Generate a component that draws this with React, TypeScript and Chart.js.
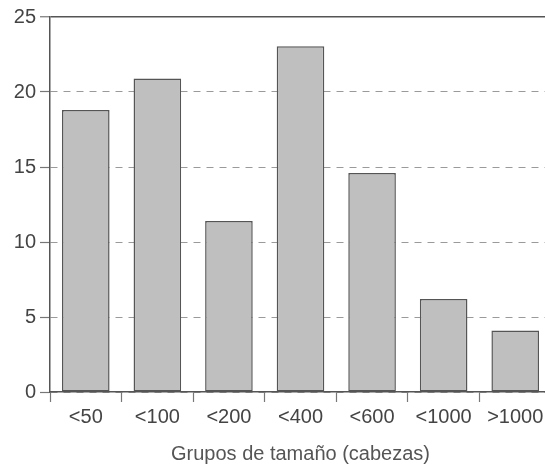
import React, { useEffect, useRef } from "react";
import { Chart, registerables } from "chart.js";

Chart.register(...registerables);

const categories = ["<50", "<100", "<200", "<400", "<600", "<1000", ">1000"];
const values = [18.8, 20.9, 11.4, 23.05, 14.6, 6.2, 4.1];
const yTicks = [0, 5, 10, 15, 20, 25];
const xTitle = "Grupos de tamaño (cabezas)";

const FONT = "'Liberation Sans', Arial, Helvetica, sans-serif";

export default function App() {
  const ref = useRef<HTMLCanvasElement | null>(null);

  useEffect(() => {
    if (!ref.current) return;
    const chart = new Chart(ref.current, {
      type: "bar",
      data: {
        labels: categories,
        datasets: [
          {
            data: values,
            backgroundColor: "#bfbfbf",
            borderColor: "#555555",
            borderWidth: 1.5,
            borderSkipped: false,
            categoryPercentage: 1,
            barPercentage: 0.665,
          },
        ],
      },
      options: {
        responsive: false,
        animation: false,
        maintainAspectRatio: false,
        layout: { padding: { top: 17, right: 9, bottom: 0, left: 0 } },
        plugins: {
          legend: { display: false },
          tooltip: { enabled: false },
        },
        scales: {
          x: {
            offset: true,
            grid: {
              offset: true,
              drawOnChartArea: false,
              drawTicks: true,
              tickLength: 10,
              tickColor: "#777777",
              tickWidth: 1.2,
            },
            border: { display: true, color: "#555555", width: 1.5 },
            ticks: {
              color: "#444444",
              font: { family: FONT, size: 20 },
              padding: 3,
              maxRotation: 0,
              autoSkip: false,
            },
            title: {
              display: true,
              text: xTitle,
              color: "#555555",
              font: { family: FONT, size: 20 },
              padding: { top: 0, bottom: 3 },
            },
            afterFit: (axis: any) => {
              axis.height = 77;
            },
          },
          y: {
            min: 0,
            max: 25,
            afterBuildTicks: (axis: any) => {
              axis.ticks = yTicks.map((v) => ({ value: v }));
            },
            grid: {
              color: (ctx: any) =>
                ctx.tick && ctx.tick.value === 25 ? "#555555" : "#9a9a9a",
              lineWidth: (ctx: any) =>
                ctx.tick && ctx.tick.value === 25 ? 1.5 : 1,
              drawTicks: true,
              tickLength: 10,
              tickColor: "#777777",
              tickWidth: 1.2,
            },
            border: {
              display: true,
              color: "#555555",
              width: 1.5,
              dash: (ctx: any) =>
                ctx.tick && ctx.tick.value === 25 ? [] : [7, 6],
            },
            ticks: {
              color: "#444444",
              font: { family: FONT, size: 20 },
              padding: 4,
            },
            afterFit: (axis: any) => {
              axis.width = 50;
            },
          },
        },
      },
    });
    return () => chart.destroy();
  }, []);

  return (
    <div
      style={{
        position: "fixed",
        left: 0,
        top: 0,
        width: 545,
        height: 469,
        overflow: "hidden",
        background: "#ffffff",
      }}
    >
      <canvas
        ref={ref}
        width={560}
        height={469}
        style={{ display: "block", width: 560, height: 469 }}
      />
    </div>
  );
}
